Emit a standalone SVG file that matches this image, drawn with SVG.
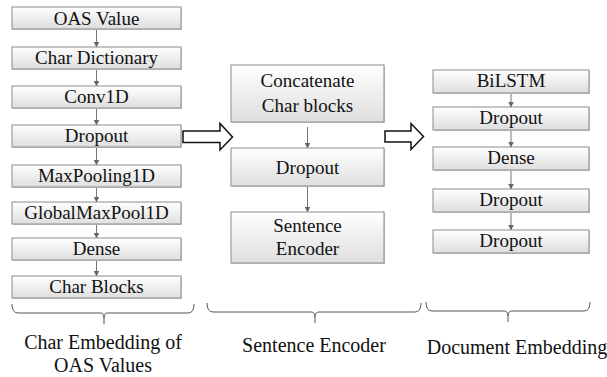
<svg xmlns="http://www.w3.org/2000/svg" width="607" height="377" viewBox="0 0 607 377">
  <defs>
    <linearGradient id="boxFill" x1="0" y1="0" x2="0" y2="1">
      <stop offset="0" stop-color="#ffffff"/>
      <stop offset="1" stop-color="#dedede"/>
    </linearGradient>
    <marker id="tip" viewBox="0 0 6 6" refX="5.5" refY="3" markerWidth="6" markerHeight="6" markerUnits="userSpaceOnUse" orient="auto">
      <path d="M0,0 L6,3 L0,6 Z" fill="#666"/>
    </marker>
  </defs>
  <style>
    .box { fill: url(#boxFill); stroke: #8c8c8c; stroke-width: 1; }
    .shadow { fill: #cfcfcf; }
    .lbl { font-family: 'Liberation Serif', serif; font-size: 19px; fill: #111; text-anchor: middle; }
    .cap { font-family: 'Liberation Serif', serif; font-size: 20px; fill: #111; text-anchor: middle; }
    .link { stroke: #777; stroke-width: 1; fill: none; marker-end: url(#tip); }
    .brace { stroke: #555; stroke-width: 1; fill: none; }
    .bigarrow { fill: #fff; stroke: #111; stroke-width: 1.5; stroke-linejoin: miter; }
  </style>

  <rect width="607" height="377" fill="#fff"/>

  <!-- connectors -->
  <g id="connectors">
    <line class="link" x1="96.5" y1="29" x2="96.5" y2="47"/>
    <line class="link" x1="96.5" y1="69" x2="96.5" y2="86"/>
    <line class="link" x1="96.5" y1="108" x2="96.5" y2="125"/>
    <line class="link" x1="96.5" y1="147" x2="96.5" y2="165"/>
    <line class="link" x1="96.5" y1="187" x2="96.5" y2="202"/>
    <line class="link" x1="96.5" y1="224" x2="96.5" y2="238"/>
    <line class="link" x1="96.5" y1="260" x2="96.5" y2="276"/>

    <line class="link" x1="307.5" y1="127" x2="307.5" y2="148"/>
    <line class="link" x1="307.5" y1="186" x2="307.5" y2="212"/>

    <line class="link" x1="511" y1="93" x2="511" y2="107"/>
    <line class="link" x1="511" y1="130" x2="511" y2="147"/>
    <line class="link" x1="511" y1="170" x2="511" y2="189"/>
    <line class="link" x1="511" y1="213" x2="511" y2="230"/>

    <!-- hollow block arrows between stages -->
    <path class="bigarrow" d="M183,131 H220 V123.5 L232.5,137 L220,150 V142.5 H183 Z"/>
    <path class="bigarrow" d="M385,131 H411 V123.5 L423.5,136.5 L411,149.5 V142 H385 Z"/>

    <!-- grouping braces -->
    <path class="brace" d="M12,304 Q12,313 18,313 H100 Q104,313 104,318 V324 M104,318 Q104,313 108,313 H188 Q194,313 194,304"/>
    <path class="brace" d="M207,303 Q207,312 213,312 H311 Q315,312 315,317 V323 M315,317 Q315,312 319,312 H415 Q421,312 421,303"/>
    <path class="brace" d="M426,302 Q426,311 432,311 H504 Q508,311 508,316 V322 M508,316 Q508,311 512,311 H584 Q590,311 590,302"/>
  </g>

  <!-- character embedding stage -->
  <g id="oas-value"><rect class="shadow" x="13" y="8" width="169" height="22"/><rect class="box" x="12" y="7" width="169" height="22"/><text class="lbl" x="96.5" y="24.5">OAS Value</text></g>
  <g id="char-dictionary"><rect class="shadow" x="13" y="48" width="169" height="22"/><rect class="box" x="12" y="47" width="169" height="22"/><text class="lbl" x="96.5" y="64">Char Dictionary</text></g>
  <g id="conv1d"><rect class="shadow" x="13" y="87" width="169" height="22"/><rect class="box" x="12" y="86" width="169" height="22"/><text class="lbl" x="96.5" y="103">Conv1D</text></g>
  <g id="dropout-1"><rect class="shadow" x="13" y="126" width="169" height="22"/><rect class="box" x="12" y="125" width="169" height="22"/><text class="lbl" x="96.5" y="142">Dropout</text></g>
  <g id="maxpooling1d"><rect class="shadow" x="13" y="166" width="169" height="22"/><rect class="box" x="12" y="165" width="169" height="22"/><text class="lbl" x="96.5" y="182">MaxPooling1D</text></g>
  <g id="globalmaxpool1d"><rect class="shadow" x="13" y="203" width="169" height="22"/><rect class="box" x="12" y="202" width="169" height="22"/><text class="lbl" x="96.5" y="219">GlobalMaxPool1D</text></g>
  <g id="dense-1"><rect class="shadow" x="13" y="239" width="169" height="22"/><rect class="box" x="12" y="238" width="169" height="22"/><text class="lbl" x="96.5" y="255">Dense</text></g>
  <g id="char-blocks"><rect class="shadow" x="13" y="277" width="169" height="22"/><rect class="box" x="12" y="276" width="169" height="22"/><text class="lbl" x="96.5" y="293">Char Blocks</text></g>

  <!-- sentence encoder stage -->
  <g id="concatenate"><rect class="shadow" x="232" y="66" width="153" height="57"/><rect class="box" x="231" y="65" width="153" height="57"/><text class="lbl" x="307.5" y="87">Concatenate</text><text class="lbl" x="307.5" y="112">Char blocks</text></g>
  <g id="dropout-2"><rect class="shadow" x="232" y="149" width="153" height="38"/><rect class="box" x="231" y="148" width="153" height="38"/><text class="lbl" x="307.5" y="174">Dropout</text></g>
  <g id="sentence-encoder"><rect class="shadow" x="232" y="213" width="153" height="51"/><rect class="box" x="231" y="212" width="153" height="51"/><text class="lbl" x="307.5" y="232">Sentence</text><text class="lbl" x="307.5" y="255">Encoder</text></g>

  <!-- document embedding stage -->
  <g id="bilstm"><rect class="shadow" x="434" y="71" width="156" height="23"/><rect class="box" x="433" y="70" width="156" height="23"/><text class="lbl" x="511" y="87">BiLSTM</text></g>
  <g id="dropout-3"><rect class="shadow" x="434" y="108" width="156" height="23"/><rect class="box" x="433" y="107" width="156" height="23"/><text class="lbl" x="511" y="124">Dropout</text></g>
  <g id="dense-2"><rect class="shadow" x="434" y="148" width="156" height="23"/><rect class="box" x="433" y="147" width="156" height="23"/><text class="lbl" x="511" y="164">Dense</text></g>
  <g id="dropout-4"><rect class="shadow" x="434" y="190" width="156" height="23"/><rect class="box" x="433" y="189" width="156" height="23"/><text class="lbl" x="511" y="206">Dropout</text></g>
  <g id="dropout-5"><rect class="shadow" x="434" y="231" width="156" height="23"/><rect class="box" x="433" y="230" width="156" height="23"/><text class="lbl" x="511" y="247">Dropout</text></g>

  <!-- stage captions -->
  <g id="captions">
    <text class="cap" x="103" y="349">Char Embedding of</text>
    <text class="cap" x="103" y="372">OAS Values</text>
    <text class="cap" x="314" y="352">Sentence Encoder</text>
    <text class="cap" x="517" y="354">Document Embedding</text>
  </g>
</svg>
